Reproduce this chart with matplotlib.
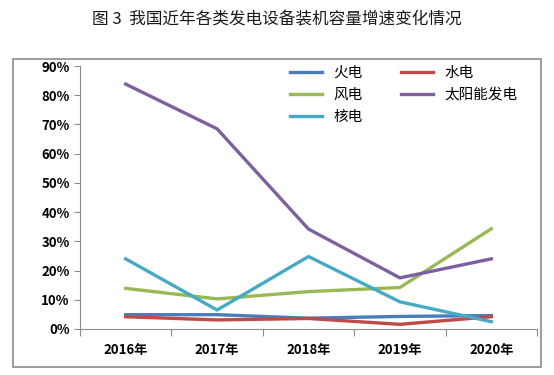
import matplotlib.pyplot as plt
from matplotlib.patches import Rectangle
from matplotlib.ticker import FuncFormatter

plt.rcParams['font.family'] = ['Noto Sans CJK SC', 'DejaVu Sans']

years = ["2016年", "2017年", "2018年", "2019年", "2020年"]
thermal = [0.049, 0.049, 0.037, 0.043, 0.046]   # 火电
hydro = [0.042, 0.031, 0.036, 0.016, 0.042]     # 水电
wind = [0.139, 0.103, 0.128, 0.142, 0.343]      # 风电
solar = [0.838, 0.685, 0.342, 0.175, 0.240]     # 太阳能发电
nuclear = [0.240, 0.065, 0.248, 0.093, 0.025]   # 核电

fig = plt.figure(figsize=(5.54, 3.75), dpi=100)

# outer chart border
fig.patches.append(Rectangle((13 / 554, 1 - 367 / 375), 528 / 554, 308 / 375,
                             transform=fig.transFigure, fill=False,
                             edgecolor='#8c8c8c', linewidth=1.2))

fig.text(0.5, 1 - 20 / 375, "图 3  我国近年各类发电设备装机容量增速变化情况",
         ha='center', va='center', fontsize=12, color='#1a1a1a')

ax = fig.add_axes([80 / 554, 1 - 329 / 375, 457 / 554, 263 / 375])
x = range(len(years))
lw = 2.4
l1, = ax.plot(x, thermal, color='#4A7EBB', lw=lw, label='火电')
l2, = ax.plot(x, hydro, color='#BE4B48', lw=lw, label='水电')
l3, = ax.plot(x, wind, color='#98B954', lw=lw, label='风电')
l4, = ax.plot(x, solar, color='#7D60A0', lw=lw, label='太阳能发电')
l5, = ax.plot(x, nuclear, color='#46AAC5', lw=lw, label='核电')

ax.set_xlim(-0.5, 4.5)
ax.set_ylim(0, 0.9)
ax.set_yticks([i / 10 for i in range(10)])
ax.yaxis.set_major_formatter(FuncFormatter(lambda v, p: f"{round(v * 100)}%"))
ax.set_xticks([i - 0.5 for i in range(6)])
ax.set_xticklabels([])
ax.set_xticks(list(x), minor=True)
ax.set_xticklabels(years, minor=True, fontweight='bold', fontsize=9.5)
ax.tick_params(axis='x', which='minor', length=0, pad=10)
ax.tick_params(axis='x', which='major', length=5, color='#8c8c8c')
ax.tick_params(axis='y', length=4, color='#8c8c8c', labelsize=9.5)
for lab in ax.get_yticklabels():
    lab.set_fontweight('bold')

for s in ['top', 'right']:
    ax.spines[s].set_visible(False)
for s in ['left', 'bottom']:
    ax.spines[s].set_color('#8c8c8c')

ax.legend([l1, l3, l5, l2, l4], ['火电', '风电', '核电', '水电', '太阳能发电'],
          ncol=2, frameon=False, loc='upper left', bbox_to_anchor=(0.43, 1.05),
          fontsize=10.5, handlelength=2.2, columnspacing=2.6, labelspacing=0.55)

fig.savefig("out.png", dpi=100)
